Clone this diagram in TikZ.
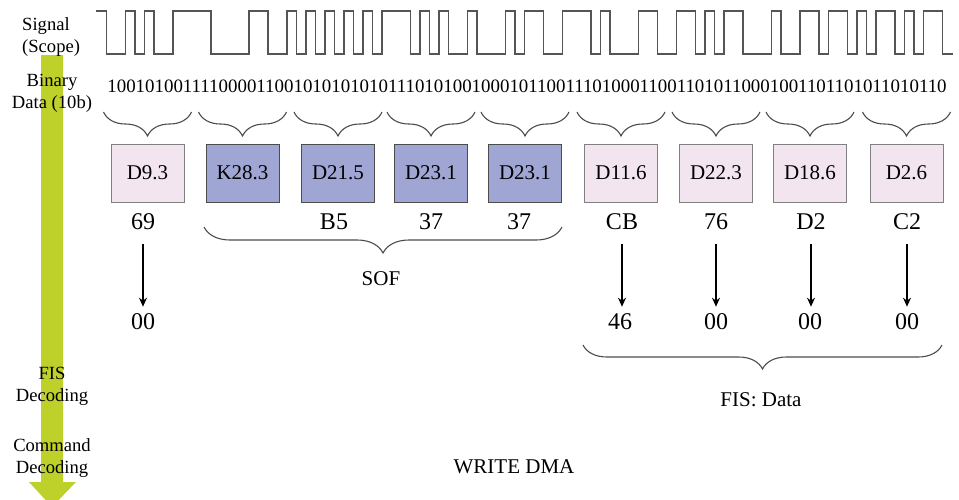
\documentclass[tikz,border=0pt]{standalone}
\usepackage{fontspec}
\setmainfont{Liberation Serif}
\usetikzlibrary{arrows.meta,decorations.pathreplacing}

\definecolor{scopegray}{RGB}{85,85,85}
\definecolor{stagegreen}{RGB}{190,208,42}
\definecolor{datapink}{RGB}{243,229,240}
\definecolor{ctrlblue}{RGB}{160,166,212}

\begin{document}
\begin{tikzpicture}[>={Stealth[length=9pt,width=8pt]}, x=1pt, y=-1pt,
  wave/.style={scopegray, line width=1.3pt, line cap=rect},
  symb/.style={draw, line width=1pt, minimum width=73pt, minimum height=58pt, inner sep=0pt, font=\rmfamily\fontsize{21}{24}\selectfont},
  dsym/.style={symb, fill=datapink, draw=black!50},
  ksym/.style={symb, fill=ctrlblue, draw=black!70},
  hexval/.style={inner sep=0pt, font=\rmfamily\fontsize{24}{28}\selectfont},
  side/.style={inner sep=0pt, align=center, font=\rmfamily\fontsize{18.6}{22}\selectfont},
  note/.style={inner sep=0pt, font=\rmfamily\fontsize{21}{24}\selectfont},
  grp/.style={decorate, decoration={brace, mirror, amplitude=#1}, draw=black!70, line width=1.1pt},
  grp/.default=24pt
]
  \path[use as bounding box, clip] (0,0) rectangle (959,499);

  % Mũi tên xanh các bước giải mã
  \fill[stagegreen] (41,55) -- (63,55) -- (63,482) -- (76,482) -- (52,507)
    -- (29,482) -- (41,482) -- cycle;

  % Nhãn bên trái
  \node[side, align=left, anchor=west] (sig) at (22,36.6) {Signal\\(Scope)};
  \node[side] (bin) at (52,93) {Binary\\Data (10b)};
  \node[side] (fis) at (52,386.4) {FIS\\Decoding};
  \node[side] (cmd) at (52,458) {Command\\Decoding};

  % Tín hiệu: mỗi bit rộng 9.5
  \foreach \b [count=\i from 0, remember=\b as \p (initially 1)] in
    {1,0,0,1,0,1,0,0,1,1, 1,1,0,0,0,0,1,1,0,0, 1,0,1,0,1,0,1,0,1,0,
     1,1,1,0,1,0,1,0,0,1, 0,0,0,1,0,1,1,0,0,1, 1,1,0,1,0,0,0,1,1,0,
     0,1,1,0,1,0,1,1,0,0, 0,1,0,0,1,1,0,1,1,0, 1,0,1,1,0,1,0,1,1,0} {
    \pgfmathsetmacro\xa{97+9.5*\i}
    \pgfmathsetmacro\yl{54-43*\b}
    \draw[wave] (\xa,\yl) -- ++(9.5,0);
    \ifnum\b=\p\else \draw[wave] (\xa,11) -- (\xa,54); \fi
  }

  % Dãy bit
  \node[anchor=base, inner sep=0pt, font=\rmfamily\fontsize{18.9}{22}\selectfont] (bits) at (527,92)
    {100101001111000011001010101010111010100100010110011101000110011010110001001101101011010110};

  % Các ký hiệu 8b/10b
  \foreach \nm/\cx/\st/\txt in {s1/147.5/dsym/D9.3, s2/242.5/ksym/K28.3, s3/338/ksym/D21.5,
      s4/431/ksym/D23.1, s5/525/ksym/D23.1, s6/621/dsym/D11.6, s7/716/dsym/D22.3,
      s8/810/dsym/D18.6, s9/906.5/dsym/D2.6} {
    \draw[grp] (\cx-44,112) -- (\cx+44,112);
    \node[\st] (\nm) at (\cx,173) {\txt};
  }

  % Giá trị byte
  \node[hexval] (v1) at (143,222) {69};
  \node[hexval] (v3) at (334,222) {B5};
  \node[hexval] (v4) at (431,222) {37};
  \node[hexval] (v5) at (519,222) {37};
  \node[hexval] (v6) at (622,222) {CB};
  \node[hexval] (v7) at (716,222) {76};
  \node[hexval] (v8) at (811,222) {D2};
  \node[hexval] (v9) at (907,222) {C2};

  % Sau giải mã
  \node[hexval] (r1) at (143,322) {00};
  \node[hexval] (r6) at (620,322) {46};
  \node[hexval] (r7) at (716,322) {00};
  \node[hexval] (r8) at (810,322) {00};
  \node[hexval] (r9) at (907,322) {00};

  \draw[->, line width=1.2pt, shorten <=14pt, shorten >=7pt] (v1) -- (r1);
  \foreach \k in {6,7,8,9}
    \draw[->, line width=2pt, shorten <=14pt, shorten >=7pt] (v\k.south) -- (v\k.south |- r\k.north);

  % Ngoặc nhóm
  \draw[grp=26pt] (204,227) -- (562,227);
  \node[note] (sof) at (381,279) {SOF};
  \draw[grp] (583,345) -- (942,345);
  \node[note] (fisdata) at (761,400) {FIS: Data};

  \node[note] (wdma) at (514,467) {WRITE DMA};
\end{tikzpicture}
\end{document}
